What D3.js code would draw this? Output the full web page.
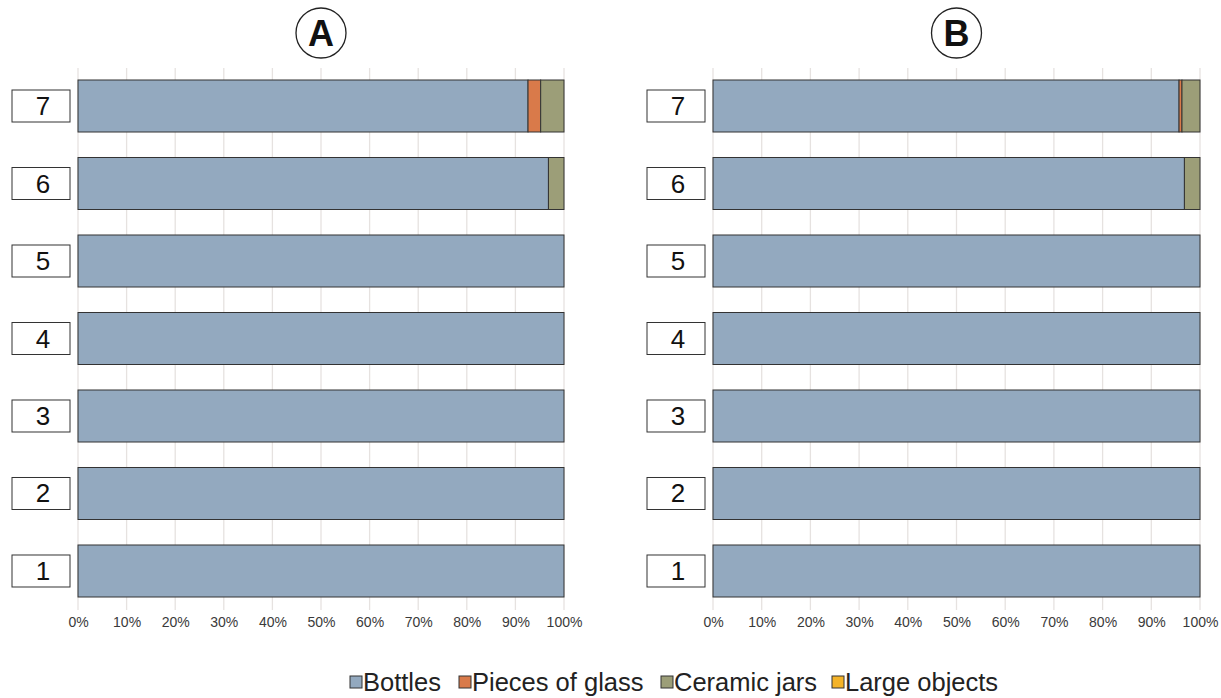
<!DOCTYPE html>
<html>
<head>
<meta charset="utf-8">
<script src="https://cdn.jsdelivr.net/npm/d3@7"></script>
<style>
  body { margin: 0; background: #fff; }
  svg { display: block; font-family: "Liberation Sans", Arial, sans-serif; }
</style>
</head>
<body>
<svg></svg>
<script>
const width = 1221;
const height = 698;

// categories (rows, drawn top to bottom)
const rows = ["7", "6", "5", "4", "3", "2", "1"];
const seriesNames = ["Bottles", "Pieces of glass", "Ceramic jars", "Large objects"];
const seriesColors = ["#93a9bf", "#d97a4a", "#9c9e78", "#f4b328"];
const xTicks = [0, 0.1, 0.2, 0.3, 0.4, 0.5, 0.6, 0.7, 0.8, 0.9, 1];

// shares per row (rows 7..1), panel A
const bottlesA = [0.926, 0.968, 1, 1, 1, 1, 1];
const glassA   = [0.026, 0, 0, 0, 0, 0, 0];
const jarsA    = [0.048, 0.032, 0, 0, 0, 0, 0];
const largeA   = [0, 0, 0, 0, 0, 0, 0];

// panel B
const bottlesB = [0.957, 0.968, 1, 1, 1, 1, 1];
const glassB   = [0.006, 0, 0, 0, 0, 0, 0];
const jarsB    = [0.037, 0.032, 0, 0, 0, 0, 0];
const largeB   = [0, 0, 0, 0, 0, 0, 0];

const svg = d3.select("svg")
  .attr("width", width)
  .attr("height", height);

function buildTable(b, g, j, l) {
  return rows.map(function(r, i) {
    return { row: r, "Bottles": b[i], "Pieces of glass": g[i], "Ceramic jars": j[i], "Large objects": l[i] };
  });
}

const color = d3.scaleOrdinal().domain(seriesNames).range(seriesColors);

function drawPanel(letter, table, x0, x1) {
  const g = svg.append("g");

  const x = d3.scaleLinear().domain([0, 1]).range([x0, x1]);
  const y = d3.scaleBand().domain(rows).range([64.5, 612.5]).paddingInner(0.329).paddingOuter(0.2);

  // grid
  g.selectAll("line.grid")
    .data(xTicks)
    .join("line")
    .attr("class", "grid")
    .attr("x1", d => x(d)).attr("x2", d => x(d))
    .attr("y1", 68).attr("y2", 610)
    .attr("stroke", "#e6e2e0")
    .attr("stroke-width", 1.3);

  // axis
  const axis = g.append("g")
    .attr("transform", "translate(0,610)")
    .call(d3.axisBottom(x).tickValues(xTicks).tickFormat(d3.format(".0%")).tickSize(0).tickPadding(7));
  axis.select(".domain").remove();
  axis.selectAll("text")
    .attr("font-size", 14)
    .attr("fill", "#3a3a3a")
    .attr("font-family", "Liberation Sans, Arial, sans-serif");

  // stacked bars
  const stacked = d3.stack().keys(seriesNames)(table);
  g.selectAll("g.layer")
    .data(stacked)
    .join("g")
    .attr("class", "layer")
    .attr("fill", d => color(d.key))
    .selectAll("rect")
    .data(d => d.filter(s => s[1] - s[0] > 0))
    .join("rect")
    .attr("x", d => x(d[0]))
    .attr("width", d => x(d[1]) - x(d[0]))
    .attr("y", d => y(d.data.row))
    .attr("height", y.bandwidth())
    .attr("stroke", "#333")
    .attr("stroke-width", 1);

  // row label boxes
  const labels = g.selectAll("g.lab")
    .data(rows)
    .join("g")
    .attr("class", "lab")
    .attr("transform", d => `translate(${x0 - 66},${y(d) + y.bandwidth() / 2})`);
  labels.append("rect")
    .attr("x", 0).attr("y", -16)
    .attr("width", 58).attr("height", 32)
    .attr("fill", "#fff")
    .attr("stroke", "#333")
    .attr("stroke-width", 1);
  labels.append("text")
    .attr("x", 31).attr("y", 9)
    .attr("text-anchor", "middle")
    .attr("font-size", 26)
    .attr("fill", "#111")
    .text(d => d);

  // panel title
  const cx = (x0 + x1) / 2;
  g.append("circle")
    .attr("cx", cx).attr("cy", 33).attr("r", 25)
    .attr("fill", "none").attr("stroke", "#222").attr("stroke-width", 1.3);
  g.append("text")
    .attr("x", cx).attr("y", 46)
    .attr("text-anchor", "middle")
    .attr("font-size", 36)
    .attr("font-weight", "bold")
    .attr("fill", "#111")
    .text(letter);
}

drawPanel("A", buildTable(bottlesA, glassA, jarsA, largeA), 78, 564);
drawPanel("B", buildTable(bottlesB, glassB, jarsB, largeB), 713, 1200);

// legend
const legendX = [350, 459, 661, 832];
const legend = svg.append("g").attr("transform", "translate(0,682)");
const items = legend.selectAll("g")
  .data(seriesNames)
  .join("g")
  .attr("transform", (d, i) => `translate(${legendX[i]},0)`);
items.append("rect")
  .attr("x", 0).attr("y", -6)
  .attr("width", 12).attr("height", 12)
  .attr("fill", d => color(d))
  .attr("stroke", "#333")
  .attr("stroke-width", 1);
items.append("text")
  .attr("x", 13).attr("y", 9)
  .attr("font-size", 25.5)
  .attr("fill", "#222")
  .text(d => d);
</script>
</body>
</html>
